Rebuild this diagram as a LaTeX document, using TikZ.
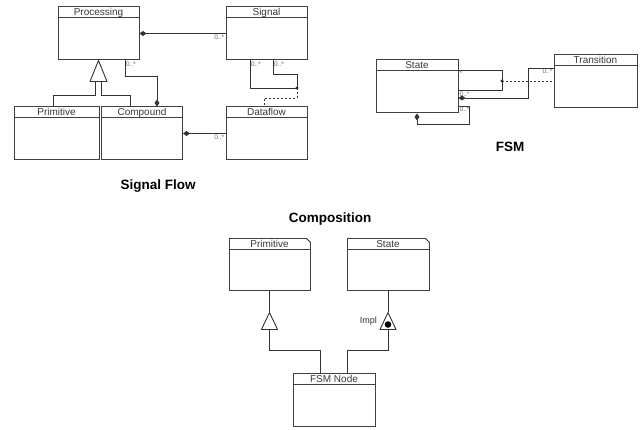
\documentclass[tikz,border=0pt]{standalone}
\usepackage{fontspec}
\setmainfont{Liberation Sans}
\usetikzlibrary{positioning,arrows.meta}

\tikzset{
  classbox/.style={draw=black!75, line width=1pt, minimum width=81pt, minimum height=53pt, inner sep=0pt},
  classname/.style={draw=black!75, line width=1pt, anchor=north, minimum width=81pt, minimum height=11pt,
    inner sep=0pt, text height=8.5pt, text depth=2.3pt, font=\fontsize{10}{11}\selectfont, text=black!78},
  assoc/.style={draw=black!80, line width=0.9pt},
  compo/.style={assoc, {Diamond[length=7pt,width=5pt]}-},
  dep/.style={assoc, dashed, dash pattern=on 2pt off 2pt},
  gen/.style={draw=black!80, line width=0.9pt, fill=white},
  mult/.style={font=\fontsize{6.5}{7}\selectfont, text=black!60, inner sep=1pt},
  lbl/.style={font=\fontsize{9}{10}\selectfont, text=black!80, inner sep=1pt},
  title/.style={font=\fontsize{13.5}{15}\bfseries\selectfont}
}

\begin{document}
\begin{tikzpicture}[x=1pt, y=-1pt]
    \useasboundingbox (0,0) rectangle (641,430);

    % Signal Flow
    \node[classbox] (proc) at (98.5,33.5) {};
    \node[classname] (procT) at (proc.north) {Processing};
    \node[classbox] (sig) at (266.5,33.5) {};
    \node[classname] (sigT) at (sig.north) {Signal};
    \node[classbox, minimum width=85pt] (prim) at (56.5,133.5) {};
    \node[classname, minimum width=85pt] (primT) at (prim.north) {Primitive};
    \node[classbox] (comp) at (142,133.5) {};
    \node[classname] (compT) at (comp.north) {Compound};
    \node[classbox] (dflow) at (266.5,133.5) {};
    \node[classname] (dflowT) at (dflow.north) {Dataflow};

    % Vererbung Primitive / Compound
    \coordinate (genL) at ([xshift=-3pt,yshift=-21pt]proc.south);
    \coordinate (genR) at ([xshift=3pt,yshift=-21pt]proc.south);
    \draw[assoc] ([xshift=-3pt]prim.north) |- (95.5,95) -- (genL);
    \draw[assoc] ([xshift=-12pt]comp.north) |- (101.5,95) -- (genR);
    \draw[gen] (proc.south) -- ++(-8.5,21) -- ++(17,0) -- cycle;

    \draw[compo] (proc.east) -- (sig.west) node[mult, pos=1, anchor=north east] (m1) {0..*};
    \draw[compo] ([xshift=15pt]comp.north) -- ++(0,-30) -| ([xshift=26.5pt]proc.south);
    \node[mult, anchor=north west] (m2) at ([xshift=26.5pt]proc.south) {0..*};

    % Signal -> Dataflow
    \coordinate (dfj) at (297,88);
    \draw[assoc] ([xshift=-16.5pt]sig.south) |- (dfj);
    \draw[assoc] ([xshift=6.5pt]sig.south) |- (297,74) -- (dfj);
    \fill[black!85] (dfj) circle (1.6pt);
    \draw[dep] (dfj) -- ++(0,10) -| ([xshift=-2.5pt]dflow.north);
    \node[mult, anchor=north west] (m3) at ([xshift=-16.5pt]sig.south) {0..*};
    \node[mult, anchor=north west] (m4) at ([xshift=6.5pt]sig.south) {0..*};

    \draw[compo] (comp.east) -- (dflow.west) node[mult, pos=1, anchor=north east] (m5) {0..*};

    \node[title] (sfT) at (158,186) {Signal Flow};

    % FSM
    \node[classbox, minimum width=82pt] (st) at (417,86.5) {};
    \node[classname, minimum width=82pt] (stT) at (st.north) {State};
    \node[classbox, minimum width=83pt] (tr) at (595.5,81.5) {};
    \node[classname, minimum width=83pt] (trT) at (tr.north) {Transition};

    \draw[assoc] ([yshift=16.5pt]st.east) -| (502,90) -- ([yshift=-3.5pt]st.east);
    \coordinate (trj) at (502,81);
    \fill[black!85] (trj) circle (1.6pt);
    \draw[dep] (trj) -- (tr.west |- trj);
    \draw[compo] ([yshift=-11.5pt]st.east) -| (528,68) -- (tr.west |- 0,68);
    \draw[compo] (st.south) |- (469,124) |- ([yshift=-19.5pt]st.east);
    \node[mult, anchor=north west] (m6) at ([yshift=16.5pt]st.east) {*};
    \node[mult, anchor=south west] (m7) at ([yshift=-11.5pt]st.east) {0..*};
    \node[mult, anchor=north east] (m8) at (tr.west |- 0,68) {0..*};
    \node[mult, anchor=north west] (m9) at ([yshift=-19.5pt]st.east) {0..*};

    \node[title] (fsmT) at (510,147) {FSM};

    % Composition
    \node[title] (cmpT) at (330,219) {Composition};
    \node[classbox, minimum height=52pt] (prim2) at (269.5,265) {};
    \node[classname] (prim2T) at (prim2.north) {Primitive};
    \node[classbox, minimum width=82pt, minimum height=52pt] (st2) at (388,265) {};
    \node[classname, minimum width=82pt] (st2T) at (st2.north) {State};
    \node[classbox, minimum width=82pt] (fsmn) at (334,400.5) {};
    \node[classname, minimum width=82pt] (fsmnT) at (fsmn.north) {FSM Node};

    % Eselsohren
    \fill[white] ([xshift=-4pt]prim2.north east) -- ([xshift=1pt,yshift=1pt]prim2.north east) -- ([yshift=-4pt]prim2.north east) -- cycle;
    \draw[assoc] ([xshift=-4pt]prim2.north east) -- ([yshift=-4pt]prim2.north east);
    \fill[white] ([xshift=-4pt]st2.north east) -- ([xshift=1pt,yshift=1pt]st2.north east) -- ([yshift=-4pt]st2.north east) -- cycle;
    \draw[assoc] ([xshift=-4pt]st2.north east) -- ([yshift=-4pt]st2.north east);

    \coordinate (g1) at ([yshift=-21pt]prim2.south);
    \draw[assoc] (prim2.south) -- (g1);
    \draw[assoc] ([xshift=-14pt]fsmn.north) |- (269.5,350) -- ++(0,-21);
    \draw[gen] (g1) -- ++(-8,17) -- ++(16,0) -- cycle;

    \coordinate (g2) at ([yshift=-21pt]st2.south);
    \draw[assoc] (st2.south) -- (g2);
    \draw[assoc] ([xshift=13pt]fsmn.north) |- (388,350) -- ++(0,-21);
    \draw[gen] (g2) -- ++(-8,17) -- ++(16,0) -- cycle;
    \fill ([yshift=-12pt]g2) circle (3.3pt);
    \node[lbl, anchor=east] (impl) at (378,321) {Impl};
\end{tikzpicture}
\end{document}
